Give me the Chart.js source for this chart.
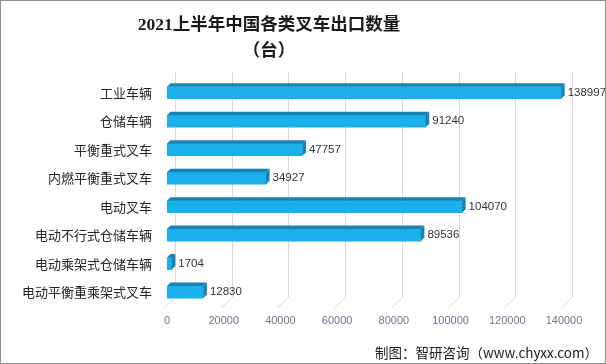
<!DOCTYPE html>
<html>
<head>
<meta charset="utf-8">
<script src="https://cdn.jsdelivr.net/npm/chart.js@4.4.0/dist/chart.umd.min.js"></script>
<style>
  html, body { margin: 0; padding: 0; background: #fff; }
  #wrap { position: relative; width: 606px; height: 364px; overflow: hidden; }
  #c { position: absolute; left: 0; top: 0; }
  #frame { position: absolute; left: 0; top: 0; width: 606px; height: 364px; box-sizing: border-box; border: 1px solid #8f8f8f; pointer-events: none; }
  .title { position: absolute; left: 0; width: 538px; text-align: center; font-family: "Liberation Serif", "Noto Sans CJK SC", serif; font-weight: bold; font-size: 17.5px; color: #1a1a1a; line-height: 20px; }
  #footer { position: absolute; right: 8px; top: 344px; font-family: "Noto Sans CJK SC", sans-serif; font-size: 13.5px; line-height: 16px; color: #1a1a1a; white-space: nowrap; }
</style>
</head>
<body>
<div id="wrap">
  <canvas id="c" width="606" height="364"></canvas>
  <div class="title" style="top:14px;">2021上半年中国各类叉车出口数量</div>
  <div class="title" style="top:40px;">（台）</div>
  <div id="footer">制图：智研咨询（www.chyxx.com）</div>
  <div id="frame"></div>
</div>
<script>
const categories = ['工业车辆', '仓储车辆', '平衡重式叉车', '内燃平衡重式叉车', '电动叉车', '电动不行式仓储车辆', '电动乘架式仓储车辆', '电动平衡重乘架式叉车'];
const values = [138997, 91240, 47757, 34927, 104070, 89536, 1704, 12830];
const xTicks = [0, 20000, 40000, 60000, 80000, 100000, 120000, 140000];

const FRONT = '#1ab1ea';
const DARK = '#1683b4';
const DEPTH = 3.5;

const threeD = {
  id: 'threeD',
  beforeDatasetsDraw(chart) {
    const ctx = chart.ctx;
    const xs = chart.scales.x;
    const area = chart.chartArea;
    ctx.save();
    ctx.strokeStyle = '#d9d9d9';
    ctx.lineWidth = 1;
    xTicks.forEach(v => {
      const xf = Math.round(xs.getPixelForValue(v));
      const xb = xf + 8 + 0.5;
      ctx.beginPath();
      ctx.moveTo(xb, area.top - 6.5);
      ctx.lineTo(xb, area.bottom - 9);
      ctx.lineTo(xf - 2.5, area.bottom + 1.5);
      ctx.stroke();
    });
    ctx.restore();
  },
  afterDatasetsDraw(chart) {
    const ctx = chart.ctx;
    const meta = chart.getDatasetMeta(0);
    ctx.save();
    meta.data.forEach((bar, i) => {
      const p = bar.getProps(['x', 'y', 'base', 'height'], true);
      const top = p.y - p.height / 2;
      const bottom = p.y + p.height / 2;
      const x0 = p.base, x1 = p.x, d = DEPTH;
      ctx.fillStyle = DARK;
      ctx.beginPath();
      ctx.moveTo(x0, top);
      ctx.lineTo(x0 + d, top - d);
      ctx.lineTo(x1 + d, top - d);
      ctx.lineTo(x1, top);
      ctx.closePath();
      ctx.fill();
      ctx.beginPath();
      ctx.moveTo(x1, top);
      ctx.lineTo(x1 + d, top - d);
      ctx.lineTo(x1 + d, bottom - d);
      ctx.lineTo(x1, bottom);
      ctx.closePath();
      ctx.fill();
      ctx.fillStyle = '#333333';
      ctx.font = '11.5px "Liberation Sans", sans-serif';
      ctx.textAlign = 'left';
      ctx.textBaseline = 'middle';
      ctx.fillText(String(values[i]), x1 + d + 3, p.y);
    });
    ctx.restore();
  }
};

new Chart(document.getElementById('c'), {
  type: 'bar',
  data: {
    labels: categories,
    datasets: [{ data: values, backgroundColor: FRONT, borderWidth: 0, barThickness: 12 }]
  },
  options: {
    indexAxis: 'y',
    responsive: false,
    animation: false,
    devicePixelRatio: 1,
    layout: { padding: { top: 78.5, bottom: 28.5, left: 0, right: 42 } },
    plugins: { legend: { display: false }, tooltip: { enabled: false }, title: { display: false } },
    scales: {
      x: {
        min: 0, max: 140000,
        afterBuildTicks: s => { s.ticks = xTicks.map(v => ({ value: v })); },
        grid: { display: false, drawTicks: false },
        border: { display: false },
        ticks: { padding: 8, maxRotation: 0, color: '#6d7787', font: { size: 11, family: '"Liberation Sans", sans-serif' }, callback: v => String(v) }
      },
      y: {
        grid: { display: false, drawTicks: false },
        border: { display: false },
        afterFit: s => { s.width = 167; },
        ticks: { padding: 15, color: '#262626', font: { size: 13, family: '"Noto Sans CJK SC", sans-serif' } }
      }
    }
  },
  plugins: [threeD]
});
</script>
</body>
</html>
